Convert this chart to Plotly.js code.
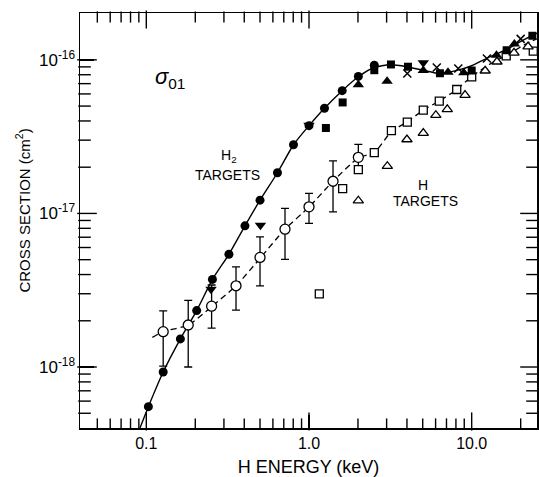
<!DOCTYPE html>
<html>
<head>
<meta charset="utf-8">
<script src="https://cdn.plot.ly/plotly-3.0.1.min.js"></script>
<style>html,body{margin:0;padding:0;background:#fff;}#chart{width:539px;height:477px;}</style>
</head>
<body>
<div id="chart"></div>
<script>
// H2 targets
const h2CircleE = [0.103,0.127,0.162,0.204,0.255,0.322,0.404,0.5,0.64,0.803,1.0,1.245,1.6,2.01,2.52];
const h2CircleS = [5.52e-19,9.28e-19,1.525e-18,2.33e-18,3.72e-18,5.42e-18,8.3e-18,1.22e-17,1.84e-17,2.80e-17,3.73e-17,4.84e-17,6.30e-17,7.80e-17,9.22e-17];
const h2SquareE = [1.27,1.61,2.52,3.19,4.06,6.38,10,16.4,23.6];
const h2SquareS = [3.6e-17,5.28e-17,8.56e-17,9.33e-17,9.02e-17,8.18e-17,8.52e-17,1.155e-16,1.435e-16];
const h2TriUpE = [2.01,3.02,5.04,7.15,8.94,14.2,18.3];
const h2TriUpS = [6.89e-17,7.26e-17,8.52e-17,8.3e-17,8.24e-17,1.07e-16,1.27e-16];
const h2TriDownE = [0.25,0.503,1.0,5.04];
const h2TriDownS = [3.21e-18,8.39e-18,3.75e-17,9.58e-17];
const h2CrossE = [4.02,6.1,8.27,12.4,20.0];
const h2CrossS = [8.15e-17,8.92e-17,8.78e-17,1.02e-16,1.37e-16];
// H targets
const hCircleE = [0.127,0.181,0.252,0.356,0.5,0.712,1.0,1.405,2.01];
const hCircleS = [1.70e-18,1.877e-18,2.49e-18,3.38e-18,5.17e-18,7.9e-18,1.104e-17,1.62e-17,2.32e-17];
const hCircleUpper = [2.32e-18,2.72e-18,3.42e-18,4.49e-18,7.04e-18,1.078e-17,1.35e-17,2.2e-17,2.82e-17];
const hCircleLower = [1.015e-18,1.0e-18,1.79e-18,2.35e-18,3.38e-18,5.02e-18,8.61e-18,1.024e-17,1.97e-17];
const hSquareE = [1.157,1.61,2.01,2.52,3.21,4.02,5.04,6.32,8.09,10,16.3,23.9];
const hSquareS = [2.99e-18,1.45e-17,1.93e-17,2.49e-17,3.46e-17,3.93e-17,4.70e-17,5.38e-17,6.41e-17,7.74e-17,1.06e-16,1.14e-16];
const hTriE = [2.01,3.03,4.0,5.04,6.02,7.08,9.1,12.1,14.3,18.2,22.2];
const hTriS = [1.21e-17,2.03e-17,3.03e-17,3.33e-17,4.36e-17,4.76e-17,5.89e-17,8.49e-17,9.72e-17,1.11e-16,1.22e-16];
// drawn curves
const h2CurveE = [0.0914,0.103,0.127,0.162,0.204,0.255,0.322,0.404,0.5,0.64,0.803,1.0,1.245,1.6,2.01,2.51,3.15,4.0,5.02,6.38,8.0,10,12.4,16.4,19.8,25.2];
const h2CurveS = [4.01e-19,5.52e-19,9.28e-19,1.525e-18,2.33e-18,3.72e-18,5.42e-18,8.3e-18,1.22e-17,1.84e-17,2.80e-17,3.73e-17,4.84e-17,6.30e-17,7.76e-17,8.92e-17,9.29e-17,9.02e-17,8.56e-17,8.15e-17,8.5e-17,9.15e-17,1.024e-16,1.17e-16,1.31e-16,1.49e-16];
const hCurveE = [0.109,0.127,0.181,0.252,0.356,0.5,0.712,1.0,1.405,2.01,2.52,3.2,4.02,5.04,6.32,8.09,10,13.6,16.4,20.8,22.8,25.2];
const hCurveS = [1.56e-18,1.70e-18,1.875e-18,2.47e-18,3.38e-18,5.1e-18,7.9e-18,1.1e-17,1.62e-17,2.3e-17,2.49e-17,3.4e-17,3.95e-17,4.7e-17,5.4e-17,6.4e-17,7.8e-17,9.69e-17,1.07e-16,1.245e-16,1.31e-16,1.37e-16];
// ticks
const xTickVals = [0.1,1,10];
const xTickText = ['0.1','1.0','10.0'];
const xMinorVals = [0.05,0.06,0.07,0.08,0.09,0.2,0.3,0.4,0.5,0.6,0.7,0.8,0.9,2,3,4,5,6,7,8,9,20];
const yTickVals = [1e-18,1e-17,1e-16];
const yTickText = ['10<sup>-18</sup>','10<sup>-17</sup>','10<sup>-16</sup>'];
const yMinorVals = [5e-19,6e-19,7e-19,8e-19,9e-19,2e-18,3e-18,4e-18,5e-18,6e-18,7e-18,8e-18,9e-18,2e-17,3e-17,4e-17,5e-17,6e-17,7e-17,8e-17,9e-17];

const K = '#000';
const SANS = '"Liberation Sans", Arial, sans-serif';
const XR = [-1.4075, 1.4014];
const YR = [-18.397, -15.695];
const M = {l: 80, r: 2, t: 13, b: 49};
const PW = 539 - M.l - M.r, PH = 477 - M.t - M.b;

// inward tick marks on the four frame sides, drawn as short line markers whose
// centre sits half a tick length inside each frame edge
function xTickMarks(vals, lenPx) {
  const h = (lenPx / 2) / PH * (YR[1] - YR[0]);
  const yB = Math.pow(10, YR[0] + h), yT = Math.pow(10, YR[1] - h);
  return {x: vals.concat(vals), y: vals.map(() => yB).concat(vals.map(() => yT)),
    mode: 'markers', hoverinfo: 'skip', cliponaxis: false,
    marker: {symbol: 'line-ns', size: lenPx, color: K, line: {color: K, width: 1.4}}};
}
function yTickMarks(vals, lenPx) {
  const h = (lenPx / 2) / PW * (XR[1] - XR[0]);
  const xL = Math.pow(10, XR[0] + h), xR = Math.pow(10, XR[1] - h);
  return {y: vals.concat(vals), x: vals.map(() => xL).concat(vals.map(() => xR)),
    mode: 'markers', hoverinfo: 'skip', cliponaxis: false,
    marker: {symbol: 'line-ew', size: lenPx, color: K, line: {color: K, width: 1.4}}};
}

const ml = {color: K, width: 1.3};
const traces = [
  xTickMarks(xTickVals, 13), xTickMarks(xMinorVals, 8),
  yTickMarks(yTickVals, 14), yTickMarks(yMinorVals, 9),
  {x: h2CurveE, y: h2CurveS, mode: 'lines', line: {color: K, width: 1.4, shape: 'spline', smoothing: 0.6}},
  {x: hCurveE, y: hCurveS, mode: 'lines', line: {color: K, width: 1.3, dash: '6px,4px', shape: 'spline', smoothing: 0.6}},
  {x: hCircleE, y: hCircleS, mode: 'markers',
   error_y: {type: 'data', symmetric: false,
     array: hCircleUpper.map((u,i)=>u-hCircleS[i]),
     arrayminus: hCircleLower.map((l,i)=>hCircleS[i]-l),
     color: K, thickness: 1.3, width: 4},
   marker: {symbol: 'circle', size: 10, color: '#fff', line: ml}},
  {x: hSquareE, y: hSquareS, mode: 'markers', marker: {symbol: 'square', size: 8, color: '#fff', line: ml}},
  {x: hTriE, y: hTriS, mode: 'markers', marker: {symbol: 'triangle-up', size: 9, color: '#fff', line: ml}},
  {x: h2CircleE, y: h2CircleS, mode: 'markers', marker: {symbol: 'circle', size: 9, color: K}},
  {x: h2SquareE, y: h2SquareS, mode: 'markers', marker: {symbol: 'square', size: 8, color: K}},
  {x: h2TriUpE, y: h2TriUpS, mode: 'markers', marker: {symbol: 'triangle-up', size: 10, color: K}},
  {x: h2TriDownE, y: h2TriDownS, mode: 'markers', marker: {symbol: 'triangle-down', size: 10, color: K}},
  {x: h2CrossE, y: h2CrossS, mode: 'markers', marker: {symbol: 'x-thin', size: 8, color: K, line: {color: K, width: 1.5}}}
];

const layout = {
  width: 539, height: 477,
  margin: M,
  paper_bgcolor: '#fff', plot_bgcolor: '#fff',
  showlegend: false,
  font: {family: SANS, color: K, size: 16},
  xaxis: {
    type: 'log', autorange: false, range: XR, showgrid: false, zeroline: false,
    showline: true, linecolor: K, linewidth: 1.5, mirror: true,
    ticks: 'inside', ticklen: 13, tickwidth: 1.5, tickcolor: K,
    tickmode: 'array', tickvals: xTickVals, ticktext: xTickText,
    tickfont: {family: SANS, size: 16, color: K},
    title: {text: 'H ENERGY (keV)', font: {family: SANS, size: 18, color: K}, standoff: 12}
  },
  yaxis: {
    type: 'log', autorange: false, range: YR, showgrid: false, zeroline: false,
    showline: true, linecolor: K, linewidth: 1.5, mirror: true,
    ticks: 'inside', ticklen: 14, tickwidth: 1.5, tickcolor: K,
    tickmode: 'array', tickvals: yTickVals, ticktext: yTickText,
    tickfont: {family: SANS, size: 17, color: K}
  },
  annotations: [
    {xref: 'paper', yref: 'paper', x: -0.126, y: 0.525, xanchor: 'center', yanchor: 'middle', showarrow: false,
     textangle: -90, text: 'CROSS SECTION (cm<sup>2</sup>)', font: {family: SANS, size: 15, color: K}},
    {xref: 'paper', yref: 'paper', x: 0.197, y: 0.843, xanchor: 'center', yanchor: 'middle', showarrow: false,
     text: '<i>σ</i><sub>01</sub>', font: {family: SANS, size: 22, color: K}},
    {xref: 'paper', yref: 'paper', x: 0.326, y: 0.655, xanchor: 'center', yanchor: 'middle', showarrow: false,
     text: 'H<sub>2</sub>', font: {family: SANS, size: 14, color: K}},
    {xref: 'paper', yref: 'paper', x: 0.3228, y: 0.609, xanchor: 'center', yanchor: 'middle', showarrow: false,
     text: 'TARGETS', font: {family: SANS, size: 14, color: K}},
    {xref: 'paper', yref: 'paper', x: 0.7505, y: 0.585, xanchor: 'center', yanchor: 'middle', showarrow: false,
     text: 'H', font: {family: SANS, size: 14, color: K}},
    {xref: 'paper', yref: 'paper', x: 0.757, y: 0.5466, xanchor: 'center', yanchor: 'middle', showarrow: false,
     text: 'TARGETS', font: {family: SANS, size: 14, color: K}}
  ]
};

Plotly.newPlot('chart', traces, layout, {staticPlot: true, displayModeBar: false});
</script>
</body>
</html>
